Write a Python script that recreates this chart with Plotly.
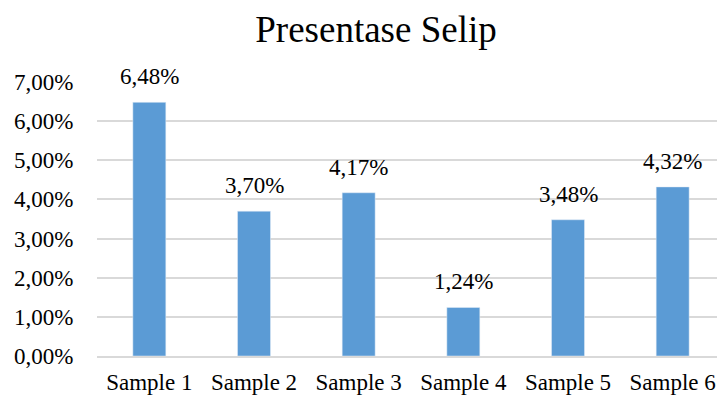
import plotly.graph_objects as go

categories = ["Sample 1", "Sample 2", "Sample 3", "Sample 4", "Sample 5", "Sample 6"]
values = [0.0648, 0.0370, 0.0417, 0.0124, 0.0348, 0.0432]
tick_vals = [0, 0.01, 0.02, 0.03, 0.04, 0.05, 0.06, 0.07]

font_family = "Liberation Serif, Times New Roman, serif"

W, H = 717, 388

fig = go.Figure(go.Bar(
    x=categories, y=values,
    marker=dict(color="#5B9BD5"),
    cliponaxis=False,
))

for c, v in zip(categories, values):
    fig.add_annotation(
        x=c, y=v, xref="x", yref="y",
        text=f"{v*100:.2f}%".replace(".", ","),
        showarrow=False, yanchor="bottom", yshift=11,
        font=dict(family=font_family, size=23, color="#000000"),
    )

fig.update_layout(
    width=W, height=H,
    margin=dict(l=89, r=0, t=74, b=40, autoexpand=False),
    paper_bgcolor="white", plot_bgcolor="white",
    separators=",.",
    bargap=0.685,
    showlegend=False,
    title=dict(text="Presentase Selip", x=368/W, xref="container", xanchor="center",
               y=1 - 21/H, yref="container", yanchor="middle",
               font=dict(family=font_family, size=37, color="#000000")),
    font=dict(family=font_family, color="#000000"),
)
fig.update_xaxes(
    automargin=False,
    showgrid=False, showline=True, linecolor="#D9D9D9", linewidth=1.5,
    tickfont=dict(family=font_family, size=23, color="#000000"),
    ticks="outside", ticklen=5, tickcolor="rgba(0,0,0,0)",
)
fig.update_yaxes(
    automargin=False,
    range=[0, 0.07], tickvals=tick_vals, tickformat=".2%",
    showgrid=True, gridcolor="#D9D9D9", gridwidth=1.5,
    zeroline=False, showline=False,
    tickfont=dict(family=font_family, size=23, color="#000000"),
    ticks="outside", ticklen=18, tickcolor="rgba(0,0,0,0)",
)

fig.write_html("out.html")
